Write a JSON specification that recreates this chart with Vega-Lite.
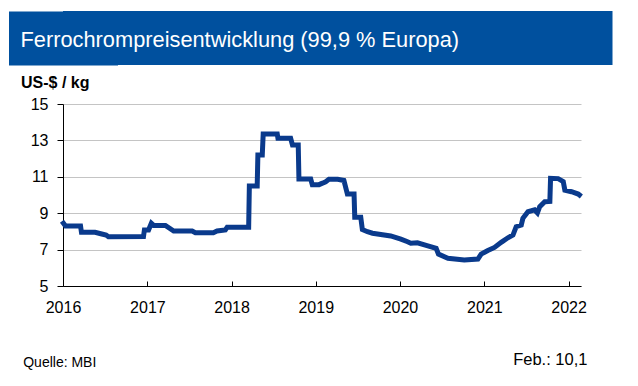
{
  "$schema": "https://vega.github.io/schema/vega-lite/v6.json",
  "background": "white",
  "padding": {"left": 20, "top": 11, "right": 26, "bottom": 10},
  "spacing": 9,
  "config": {"font": "Liberation Sans", "view": {"stroke": null}},
  "vconcat": [
    {
      "width": 549.5,
      "height": 54,
      "view": {"fill": "#00509e", "stroke": null},
      "data": {"values": [{"t": "Ferrochrompreisentwicklung (99,9 % Europa)"}]},
      "mark": {"type": "text", "align": "left", "baseline": "middle", "color": "white", "fontSize": 21.8, "dx": -42.5, "dy": 2},
      "encoding": {
        "x": {"datum": 0, "type": "quantitative", "scale": {"domain": [0, 1]}, "axis": null},
        "y": {
          "datum": 0.5, "type": "quantitative", "scale": {"domain": [0, 1]},
          "axis": {"domainWidth": 109, "domainColor": "#00509e", "domainCap": "butt", "labels": false, "ticks": false, "grid": false, "title": null, "zindex": 0}
        },
        "text": {"field": "t"}
      }
    },
    {
      "width": 518,
      "height": 182,
      "data": {"values": [
        {"d":"2016-01-03","v":8.45},
        {"d":"2016-01-12","v":8.3},
        {"d":"2016-03-17","v":8.3},
        {"d":"2016-03-21","v":7.95},
        {"d":"2016-05-19","v":7.95},
        {"d":"2016-06-17","v":7.86},
        {"d":"2016-07-06","v":7.8},
        {"d":"2016-07-16","v":7.71},
        {"d":"2016-12-15","v":7.72},
        {"d":"2016-12-19","v":8.08},
        {"d":"2017-01-06","v":8.08},
        {"d":"2017-01-18","v":8.45},
        {"d":"2017-01-28","v":8.33},
        {"d":"2017-03-20","v":8.33},
        {"d":"2017-04-25","v":8.02},
        {"d":"2017-07-14","v":8.02},
        {"d":"2017-07-28","v":7.93},
        {"d":"2017-10-14","v":7.93},
        {"d":"2017-10-30","v":8.02},
        {"d":"2017-12-05","v":8.08},
        {"d":"2017-12-13","v":8.23},
        {"d":"2018-03-16","v":8.23},
        {"d":"2018-03-19","v":10.49},
        {"d":"2018-04-22","v":10.49},
        {"d":"2018-04-25","v":12.2},
        {"d":"2018-05-14","v":12.2},
        {"d":"2018-05-18","v":13.35},
        {"d":"2018-07-18","v":13.35},
        {"d":"2018-07-21","v":13.12},
        {"d":"2018-09-14","v":13.12},
        {"d":"2018-09-22","v":12.75},
        {"d":"2018-10-17","v":12.75},
        {"d":"2018-10-20","v":10.88},
        {"d":"2018-12-10","v":10.88},
        {"d":"2018-12-17","v":10.57},
        {"d":"2019-01-15","v":10.57},
        {"d":"2019-01-30","v":10.65},
        {"d":"2019-02-13","v":10.73},
        {"d":"2019-02-27","v":10.86},
        {"d":"2019-04-06","v":10.86},
        {"d":"2019-05-03","v":10.8},
        {"d":"2019-05-18","v":10.05},
        {"d":"2019-06-16","v":10.05},
        {"d":"2019-06-19","v":8.78},
        {"d":"2019-07-15","v":8.78},
        {"d":"2019-07-22","v":8.1},
        {"d":"2019-08-13","v":7.98},
        {"d":"2019-09-04","v":7.9},
        {"d":"2019-11-22","v":7.75},
        {"d":"2020-01-05","v":7.57},
        {"d":"2020-02-03","v":7.43},
        {"d":"2020-02-17","v":7.35},
        {"d":"2020-03-17","v":7.37},
        {"d":"2020-05-01","v":7.2},
        {"d":"2020-06-06","v":7.07},
        {"d":"2020-06-16","v":6.75},
        {"d":"2020-07-27","v":6.52},
        {"d":"2020-10-06","v":6.43},
        {"d":"2020-12-04","v":6.48},
        {"d":"2020-12-18","v":6.75},
        {"d":"2021-01-16","v":6.95},
        {"d":"2021-02-14","v":7.12},
        {"d":"2021-03-15","v":7.4},
        {"d":"2021-04-13","v":7.65},
        {"d":"2021-05-05","v":7.8},
        {"d":"2021-05-19","v":8.26},
        {"d":"2021-06-10","v":8.35},
        {"d":"2021-06-17","v":8.72},
        {"d":"2021-07-09","v":9.08},
        {"d":"2021-08-07","v":9.18},
        {"d":"2021-08-19","v":9.02},
        {"d":"2021-08-29","v":9.36},
        {"d":"2021-09-20","v":9.63},
        {"d":"2021-10-12","v":9.65},
        {"d":"2021-10-15","v":10.92},
        {"d":"2021-11-17","v":10.9},
        {"d":"2021-12-09","v":10.74},
        {"d":"2021-12-16","v":10.27},
        {"d":"2022-01-14","v":10.18},
        {"d":"2022-02-12","v":10.05},
        {"d":"2022-02-17","v":10.0}
      ]},
      "mark": {"type": "line", "color": "#0a3a8c", "strokeWidth": 5, "strokeJoin": "miter", "strokeCap": "square"},
      "encoding": {
        "x": {
          "field": "d", "type": "temporal",
          "scale": {"type": "utc", "domain": ["2016-01-01", "2022-02-24"]},
          "axis": {
            "title": null, "format": "%Y", "tickCount": {"interval": "year", "step": 1},
            "grid": false, "domainColor": "black", "tickColor": "black", "tickSize": -5,
            "labelFontSize": 16, "labelColor": "black", "labelPadding": 18, "labelDx": 3, "labelFlush": false, "labelOverlap": false
          }
        },
        "y": {
          "field": "v", "type": "quantitative",
          "scale": {"domain": [5, 15]},
          "axis": {
            "values": [5, 7, 9, 11, 13, 15], "grid": true, "gridColor": "#c4c4c4",
            "domainColor": "black", "tickColor": "black", "tickSize": 6,
            "labelFontSize": 16, "labelColor": "black", "labelPadding": 9,
            "title": "US-$ / kg", "titleAngle": 0, "titleFontSize": 16, "titleFontWeight": "bold",
            "titleColor": "black", "titleAlign": "left", "titleBaseline": "alphabetic",
            "titleX": -42.5, "titleY": -17
          }
        }
      }
    },
    {
      "width": 549.5,
      "height": 50,
      "layer": [
        {
          "data": {"values": [{"t": "Quelle: MBI"}]},
          "mark": {"type": "text", "align": "left", "baseline": "alphabetic", "color": "black", "fontSize": 14, "dx": -39.8, "dy": -1},
          "encoding": {
            "x": {"datum": 0, "type": "quantitative", "scale": {"domain": [0, 1]}, "axis": null},
            "y": {"datum": 0.12, "type": "quantitative", "scale": {"domain": [0, 1]}, "axis": null},
            "text": {"field": "t"}
          }
        },
        {
          "data": {"values": [{"t": "Feb.: 10,1"}]},
          "mark": {"type": "text", "align": "right", "baseline": "alphabetic", "color": "black", "fontSize": 16.5, "dx": -25, "dy": -3},
          "encoding": {
            "x": {"datum": 1, "type": "quantitative", "scale": {"domain": [0, 1]}, "axis": null},
            "y": {"datum": 0.12, "type": "quantitative", "scale": {"domain": [0, 1]}, "axis": null},
            "text": {"field": "t"}
          }
        }
      ]
    }
  ]
}
